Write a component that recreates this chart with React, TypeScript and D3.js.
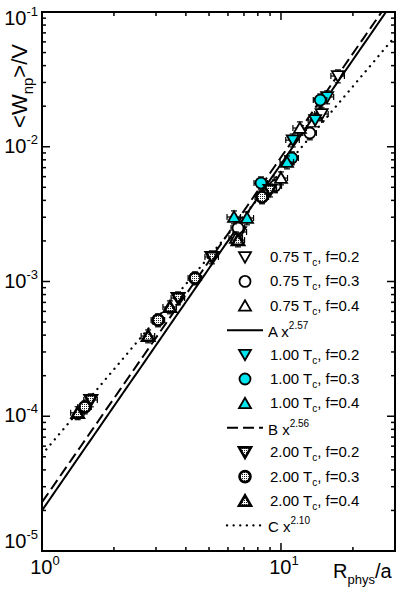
import React from "react";
import * as d3 from "d3";

// chart size
const W = 398, H = 592;
const left = 42, right = 395, top = 12, bottom = 551;

// data points: [R_phys/a, <W_np>/V]
const t075f02 = [[17.3, 0.0335], [14.8, 0.0175], [6.74, 0.00233]];
const t075f03 = [[13.2, 0.01265], [9.44, 0.00512], [6.61, 0.00249]];
const t075f04 = [[12.0, 0.01377], [10.0, 0.00586], [6.48, 0.0021]];
const t100f02 = [[11.2, 0.0112], [13.9, 0.0158], [15.6, 0.0234]];
const t100f03 = [[8.25, 0.00538], [11.1, 0.00825], [14.6, 0.0222]];
const t100f04 = [[6.36, 0.00301], [7.21, 0.00296], [10.6, 0.0077]];
const t200f02 = [[1.6, 1.32e-4], [3.71, 7.54e-4], [5.14, 1.52e-3], [9.0, 4.77e-3]];
const t200f03 = [[1.51, 1.17e-4], [3.06, 5.18e-4], [4.37, 1.06e-3], [8.33, 4.24e-3]];
const t200f04 = [[1.41, 1.06e-4], [2.78, 3.94e-4], [3.43, 6.47e-4], [6.61, 2.03e-3]];

// relative error bars
const xErrRel = 0.065;
const yErrRel = 0.11;

// power law fits
const fitNames = ["A", "B", "C"];
const fitCoef = [2.0e-5, 2.3e-5, 5.2e-5];
const fitExp = ["2.57", "2.56", "2.10"];

const temps = ["0.75", "1.00", "2.00"];
const fracs = ["0.2", "0.3", "0.4"];

const xDomain = [1, 30];
const yDomain = [1e-5, 1e-1];

const x = d3.scaleLog().domain(xDomain).range([left, right]);
const y = d3.scaleLog().domain(yDomain).range([bottom, top]);

const series = [
  { data: t075f02, shape: "down", fill: "white", t: 0, f: 0 },
  { data: t075f03, shape: "circle", fill: "white", t: 0, f: 1 },
  { data: t075f04, shape: "up", fill: "white", t: 0, f: 2 },
  { data: t100f02, shape: "down", fill: "#00e5ee", t: 1, f: 0 },
  { data: t100f03, shape: "circle", fill: "#00e5ee", t: 1, f: 1 },
  { data: t100f04, shape: "up", fill: "#00e5ee", t: 1, f: 2 },
  { data: t200f02, shape: "down", fill: "url(#dots)", t: 2, f: 0 },
  { data: t200f03, shape: "circle", fill: "url(#dots)", t: 2, f: 1 },
  { data: t200f04, shape: "up", fill: "url(#dots)", t: 2, f: 2 },
];

const dashes = [null, "11,5", "0.1,6.5"];

function markerPath(shape: string, cx: number, cy: number) {
  if (shape === "circle") {
    const p = d3.path();
    p.arc(cx, cy, 5.5, 0, 2 * Math.PI);
    return p.toString();
  }
  const s = shape === "up" ? 1 : -1;
  return `M${cx - 6},${cy + 4.8 * s}L${cx + 6},${cy + 4.8 * s}L${cx},${cy - 5.6 * s}Z`;
}

function Marker({ shape, fill, cx, cy, heavy }: any) {
  return <path d={markerPath(shape, cx, cy)} fill={fill} stroke="black" strokeWidth={heavy ? 2.6 : 1.8} strokeLinejoin="miter" />;
}

function ErrorBars({ d }: any) {
  const px = x(d[0]), py = y(d[1]);
  const x0 = x(d[0] * (1 - xErrRel)), x1 = x(d[0] * (1 + xErrRel));
  const y0 = y(d[1] * (1 - yErrRel)), y1 = y(d[1] * (1 + yErrRel));
  const c = 3;
  return (
    <g stroke="black" strokeWidth={1.2}>
      <line x1={x0} x2={x1} y1={py} y2={py} />
      <line x1={x0} x2={x0} y1={py - c} y2={py + c} />
      <line x1={x1} x2={x1} y1={py - c} y2={py + c} />
      <line x1={px} x2={px} y1={y0} y2={y1} />
      <line x1={px - c} x2={px + c} y1={y0} y2={y0} />
      <line x1={px - c} x2={px + c} y1={y1} y2={y1} />
    </g>
  );
}

function fitLine(i: number) {
  const xs = d3.range(0, 1.0001, 0.01).map((t) => Math.pow(10, t * Math.log10(xDomain[1])));
  const pts = xs
    .map((v) => [v, fitCoef[i] * Math.pow(v, +fitExp[i])])
    .filter((p) => p[1] <= yDomain[1] * 1.0001);
  const xTop = Math.pow(yDomain[1] / fitCoef[i], 1 / +fitExp[i]);
  if (xTop < xDomain[1]) pts.push([xTop, yDomain[1]]);
  return d3.line<number[]>().x((p) => x(p[0])).y((p) => y(p[1]))(pts) || "";
}

export default function App() {
  const xMinor = [2, 3, 4, 5, 6, 7, 8, 9, 20, 30].filter((v) => v <= xDomain[1]);
  const xMajor = [1, 10];
  const yMajor = [1e-5, 1e-4, 1e-3, 1e-2, 1e-1];
  const yMinor: number[] = [];
  yMajor.slice(0, 4).forEach((m) => d3.range(2, 10).forEach((k) => yMinor.push(m * k)));

  const font = "Liberation Sans, Arial, sans-serif";

  // legend rows
  const rows: any[] = [];
  temps.forEach((tv, ti) => {
    series.filter((s) => s.t === ti).forEach((s) => rows.push({ kind: "marker", s }));
    rows.push({ kind: "fit", i: ti });
  });
  const ly0 = 257, lstep = 24.4, lmx = 245, ltx = 270;

  return (
    <svg width={W} height={H} style={{ position: "absolute", left: 0, top: 0 }} fontFamily={font}>
      <defs>
        <pattern id="dots" width="2" height="2" patternUnits="userSpaceOnUse">
          <rect width="2" height="2" fill="#fff" />
          <rect x="0" y="0" width="1" height="1" fill="#222" />
        </pattern>
        <clipPath id="plot">
          <rect x={left} y={top} width={right - left} height={bottom - top} />
        </clipPath>
      </defs>
      <rect width={W} height={H} fill="white" />

      {/* fit lines */}
      <g clipPath="url(#plot)" fill="none" stroke="black">
        {fitNames.map((n, i) => (
          <path key={n} d={fitLine(i)} strokeDasharray={dashes[i] || undefined}
            strokeLinecap={i === 2 ? "round" : "butt"} strokeWidth={i === 2 ? 2.3 : 2} />
        ))}
      </g>

      {/* data */}
      <g>
        {series.map((s, si) =>
          s.data.map((d, di) => (
            <g key={si + "-" + di}>
              <ErrorBars d={d} />
              <Marker shape={s.shape} fill={s.fill} cx={x(d[0])} cy={y(d[1])} heavy={s.t === 2} />
            </g>
          ))
        )}
      </g>

      {/* frame and ticks */}
      <g stroke="black" strokeWidth={1.5}>
        {xMajor.map((v) => (
          <g key={"xM" + v}>
            <line x1={x(v)} x2={x(v)} y1={bottom} y2={bottom - 8} />
            <line x1={x(v)} x2={x(v)} y1={top} y2={top + 8} />
          </g>
        ))}
        {xMinor.map((v) => (
          <g key={"xm" + v}>
            <line x1={x(v)} x2={x(v)} y1={bottom} y2={bottom - 4} />
            <line x1={x(v)} x2={x(v)} y1={top} y2={top + 4} />
          </g>
        ))}
        {yMajor.map((v) => (
          <g key={"yM" + v}>
            <line x1={left} x2={left + 8} y1={y(v)} y2={y(v)} />
            <line x1={right} x2={right - 8} y1={y(v)} y2={y(v)} />
          </g>
        ))}
        {yMinor.map((v) => (
          <g key={"ym" + v}>
            <line x1={left} x2={left + 4} y1={y(v)} y2={y(v)} />
            <line x1={right} x2={right - 4} y1={y(v)} y2={y(v)} />
          </g>
        ))}
      </g>
      <rect x={left} y={top} width={right - left} height={bottom - top} fill="none" stroke="black" strokeWidth={2} />

      {/* tick labels */}
      {xMajor.map((v, i) => (
        <text key={"xl" + v} x={x(v) + 3} y={574} fontSize={20} textAnchor="middle">
          10<tspan fontSize={13} dy={-9}>{i}</tspan>
        </text>
      ))}
      {yMajor.map((v) => {
        const e = Math.round(Math.log10(v));
        const off = e === -1 ? 13 : e === -5 ? -3 : 6;
        return (
          <text key={"yl" + v} x={38} y={y(v) + off} fontSize={20} textAnchor="end">
            10<tspan fontSize={13} dy={-9}>{e}</tspan>
          </text>
        );
      })}

      {/* axis titles */}
      <text x={333} y={578} fontSize={20}>
        R<tspan fontSize={13} dy={6}>phys</tspan><tspan dy={-6}>/a</tspan>
      </text>
      <text transform={`translate(27,86) rotate(-90)`} fontSize={22} textAnchor="middle">
        {"<W"}<tspan fontSize={15} dy={6}>np</tspan><tspan dy={-6}>{">/V"}</tspan>
      </text>

      {/* legend */}
      {rows.map((r, k) => {
        const ry = ly0 + k * lstep;
        if (r.kind === "marker") {
          return (
            <g key={"lg" + k}>
              <Marker shape={r.s.shape} fill={r.s.fill} cx={lmx} cy={ry} heavy={r.s.t === 2} />
              <text x={ltx} y={ry + 5} fontSize={15}>
                {temps[r.s.t]} T<tspan fontSize={10} dy={4}>c</tspan><tspan dy={-4}>, f={fracs[r.s.f]}</tspan>
              </text>
            </g>
          );
        }
        return (
          <g key={"lg" + k}>
            <line x1={227} x2={263} y1={ry} y2={ry} stroke="black" strokeWidth={r.i === 2 ? 2.3 : 2}
              strokeDasharray={dashes[r.i] || undefined} strokeLinecap={r.i === 2 ? "round" : "butt"} />
            <text x={ltx - 2} y={ry + 7} fontSize={15}>
              {fitNames[r.i]} x<tspan fontSize={10} dy={-8}>{fitExp[r.i]}</tspan>
            </text>
          </g>
        );
      })}
    </svg>
  );
}
